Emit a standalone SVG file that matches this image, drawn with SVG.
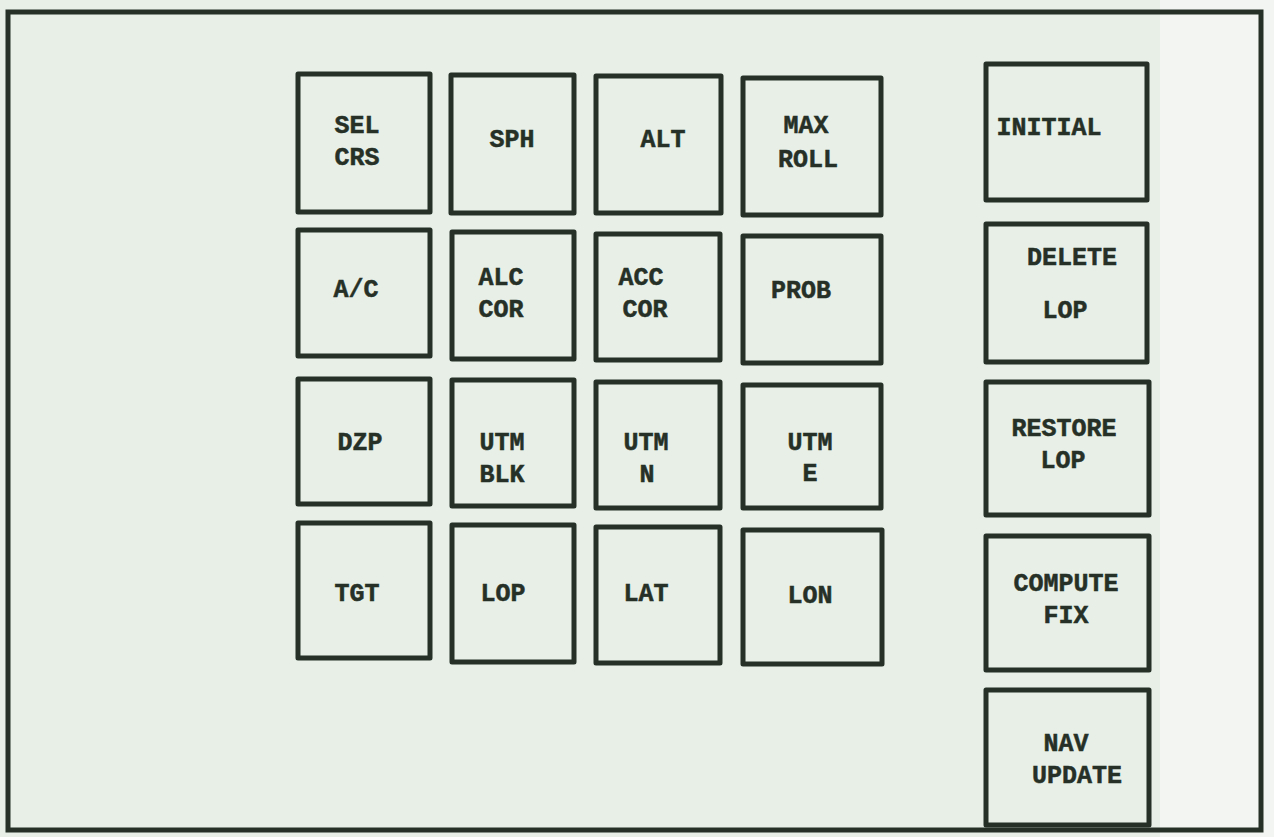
<svg xmlns="http://www.w3.org/2000/svg" width="1274" height="837" viewBox="0 0 1274 837">
<style>
.bg{fill:#e7efe7}
.strip{fill:#f2f5f2}
.frame{fill:none;stroke:#263026;stroke-width:5}
.key{fill:none;stroke:#263026;stroke-width:5;stroke-linejoin:round}
.t{font-family:"Liberation Mono","DejaVu Sans Mono",monospace;font-weight:bold;font-size:25px;fill:#263026;stroke:#263026;stroke-width:0.5;text-anchor:middle}
</style>
<rect class="bg" x="0" y="0" width="1274" height="837"/>
<rect class="strip" x="1160" y="0" width="114" height="837"/>
<rect class="frame" x="8" y="12" width="1253" height="818"/>
<g id="connectors"/>
<g id="sel-crs"><rect class="key" x="298" y="74" width="132" height="138"/><text class="t" x="357" y="133">SEL</text><text class="t" x="357" y="165">CRS</text></g>
<g id="sph"><rect class="key" x="451" y="75" width="123" height="138"/><text class="t" x="512" y="147">SPH</text></g>
<g id="alt"><rect class="key" x="596" y="76" width="125" height="137"/><text class="t" x="663" y="147">ALT</text></g>
<g id="max-roll"><rect class="key" x="743" y="78" width="138" height="137"/><text class="t" x="806" y="133">MAX</text><text class="t" x="808" y="167">ROLL</text></g>
<g id="initial"><rect class="key" x="986" y="64" width="161" height="136"/><text class="t" x="1049" y="135">INITIAL</text></g>
<g id="ac"><rect class="key" x="298" y="230" width="132" height="126"/><text class="t" x="356" y="297">A/C</text></g>
<g id="alc-cor"><rect class="key" x="452" y="232" width="122" height="127"/><text class="t" x="501" y="285">ALC</text><text class="t" x="501" y="317">COR</text></g>
<g id="acc-cor"><rect class="key" x="596" y="234" width="124" height="126"/><text class="t" x="641" y="285">ACC</text><text class="t" x="645" y="317">COR</text></g>
<g id="prob"><rect class="key" x="743" y="236" width="138" height="127"/><text class="t" x="801" y="298">PROB</text></g>
<g id="delete-lop"><rect class="key" x="986" y="224" width="161" height="138"/><text class="t" x="1072" y="265">DELETE</text><text class="t" x="1065" y="318">LOP</text></g>
<g id="dzp"><rect class="key" x="298" y="379" width="132" height="125"/><text class="t" x="360" y="450">DZP</text></g>
<g id="utm-blk"><rect class="key" x="452" y="380" width="122" height="126"/><text class="t" x="502" y="450">UTM</text><text class="t" x="502" y="482">BLK</text></g>
<g id="utm-n"><rect class="key" x="596" y="382" width="124" height="126"/><text class="t" x="646" y="450">UTM</text><text class="t" x="647" y="482">N</text></g>
<g id="utm-e"><rect class="key" x="743" y="385" width="138" height="123"/><text class="t" x="810" y="450">UTM</text><text class="t" x="810" y="481">E</text></g>
<g id="restore-lop"><rect class="key" x="986" y="382" width="163" height="133"/><text class="t" x="1064" y="436">RESTORE</text><text class="t" x="1063" y="468">LOP</text></g>
<g id="tgt"><rect class="key" x="298" y="523" width="132" height="135"/><text class="t" x="357" y="601">TGT</text></g>
<g id="lop"><rect class="key" x="452" y="525" width="122" height="137"/><text class="t" x="503" y="601">LOP</text></g>
<g id="lat"><rect class="key" x="596" y="527" width="124" height="136"/><text class="t" x="646" y="601">LAT</text></g>
<g id="lon"><rect class="key" x="743" y="530" width="139" height="134"/><text class="t" x="810" y="603">LON</text></g>
<g id="compute-fix"><rect class="key" x="986" y="536" width="163" height="134"/><text class="t" x="1066" y="591">COMPUTE</text><text class="t" x="1066" y="623">FIX</text></g>
<g id="nav-update"><rect class="key" x="986" y="690" width="163" height="135"/><text class="t" x="1066" y="751">NAV</text><text class="t" x="1077" y="783">UPDATE</text></g>
</svg>
